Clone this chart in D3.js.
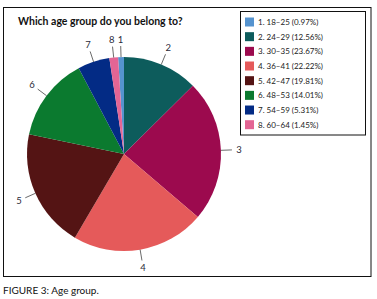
<!DOCTYPE html>
<html>
<head>
<meta charset="utf-8">
<script src="https://cdn.jsdelivr.net/npm/d3@7"></script>
<style>
  body { margin: 0; background: #fff; }
  svg { display: block; font-family: Lato, "Open Sans", sans-serif; }
</style>
</head>
<body>
<div id="chart"></div>
<script>
const categories = ["1. 18–25", "2. 24–29", "3. 30–35", "4. 36–41", "5. 42–47", "6. 48–53", "7. 54–59", "8. 60–64"];
const shares = [0.97, 12.56, 23.67, 22.22, 19.81, 14.01, 5.31, 1.45];
const sliceLabels = ["1", "2", "3", "4", "5", "6", "7", "8"];
const colors = ["#5593cf", "#0d5c5c", "#9c0a4e", "#e55a5a", "#541414", "#0b7a2f", "#032b85", "#e36594"];

const W = 377, H = 299;
const cx = 124, cy = 154, R = 97;

const svg = d3.select("#chart").append("svg")
  .attr("width", W)
  .attr("height", H);

// outer frame
svg.append("rect")
  .attr("x", 3.5).attr("y", 7.5)
  .attr("width", 367.5).attr("height", 269)
  .attr("fill", "none")
  .attr("stroke", "#111")
  .attr("stroke-width", 1);

svg.append("text")
  .attr("x", 18)
  .attr("y", 25)
  .attr("font-size", 10.5)
  .attr("font-weight", "bold")
  .attr("fill", "#111")
  .text("Which age group do you belong to?");

// slice 2 starts at 12 o'clock, slice 1 sits just before it
const offset = -shares[0] / 100 * 2 * Math.PI;
const pie = d3.pie().sort(null)
  .startAngle(offset)
  .endAngle(offset + 2 * Math.PI);
const arcs = pie(shares);

const arc = d3.arc().innerRadius(0).outerRadius(R);
const labelArc = d3.arc().innerRadius(115).outerRadius(115);
const lineStart = d3.arc().innerRadius(97).outerRadius(97);
const lineEnd = d3.arc().innerRadius(108).outerRadius(108);

const g = svg.append("g")
  .attr("transform", `translate(${cx},${cy})`);

g.selectAll("path.slice")
  .data(arcs)
  .join("path")
    .attr("class", "slice")
    .attr("d", arc)
    .attr("fill", (d, i) => colors[i]);

g.selectAll("line.leader")
  .data(arcs)
  .join("line")
    .attr("class", "leader")
    .attr("x1", d => lineStart.centroid(d)[0])
    .attr("y1", d => lineStart.centroid(d)[1])
    .attr("x2", d => lineEnd.centroid(d)[0])
    .attr("y2", d => lineEnd.centroid(d)[1])
    .attr("stroke", "#444")
    .attr("stroke-width", 0.8);

g.selectAll("text.lab")
  .data(arcs)
  .join("text")
    .attr("class", "lab")
    .attr("x", d => labelArc.centroid(d)[0])
    .attr("y", d => labelArc.centroid(d)[1])
    .attr("text-anchor", "middle")
    .attr("dominant-baseline", "central")
    .attr("font-size", 9.5)
    .attr("fill", "#2a2a3a")
    .text((d, i) => sliceLabels[i]);

// legend
svg.append("rect")
  .attr("x", 240.5).attr("y", 11.5)
  .attr("width", 125).attr("height", 123.5)
  .attr("fill", "none")
  .attr("stroke", "#111")
  .attr("stroke-width", 1);

const legendY = d3.scalePoint()
  .domain(categories)
  .range([22, 124.7]);

const items = svg.selectAll("g.legend-item")
  .data(categories)
  .join("g")
    .attr("class", "legend-item")
    .attr("transform", d => `translate(245,${legendY(d)})`);

items.append("rect")
  .attr("x", 0).attr("y", -4.5)
  .attr("width", 9).attr("height", 9)
  .attr("fill", (d, i) => colors[i]);

items.append("text")
  .attr("x", 13)
  .attr("y", 0)
  .attr("dominant-baseline", "central")
  .attr("font-size", 8)
  .attr("fill", "#222")
  .text((d, i) => `${d} (${shares[i].toFixed(2)}%)`);

svg.append("text")
  .attr("x", 3)
  .attr("y", 294)
  .attr("font-size", 10)
  .attr("fill", "#111")
  .text("FIGURE 3: Age group.");
</script>
</body>
</html>
